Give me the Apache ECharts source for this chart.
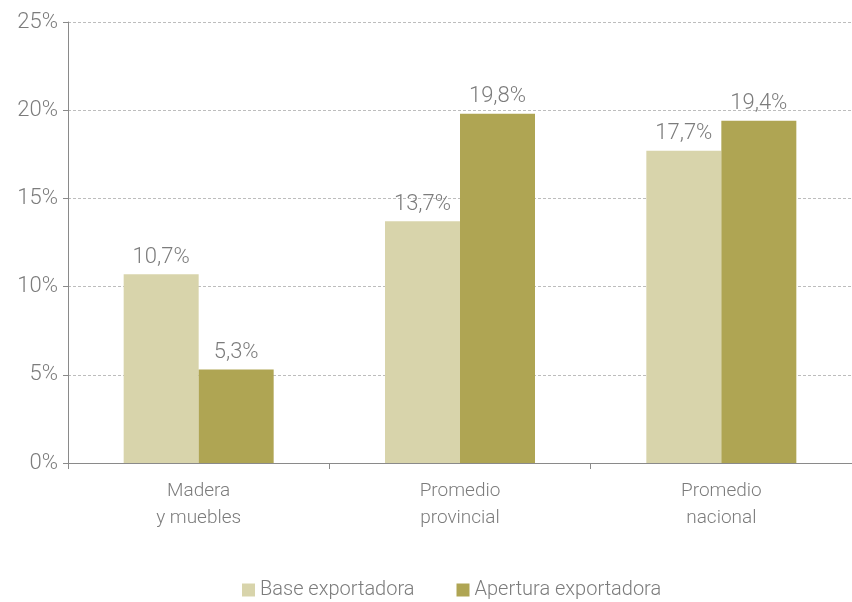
<!DOCTYPE html>
<html><head><meta charset="utf-8">
<script src="https://cdn.jsdelivr.net/npm/echarts@6/dist/echarts.min.js"></script>
<style>html,body{margin:0;padding:0;background:#fff}#c{width:852px;height:602px}</style>
</head><body><div id="c"></div>
<script>
const categories = ["Madera\ny muebles", "Promedio\nprovincial", "Promedio\nnacional"];
const seriesNames = ["Base exportadora", "Apertura exportadora"];
const baseValues = [10.7, 13.7, 17.7];
const aperturaValues = [5.3, 19.8, 19.4];
const yTicks = [0, 5, 10, 15, 20, 25];

const FONT = 'Roboto, "Liberation Sans", sans-serif';
const TXT = '#7c7c7c';
const fmt = v => v.toFixed(1).replace('.', ',') + '%';
const chart = echarts.init(document.getElementById('c'));
const lbl = {show: true, position: 'top', distance: 6, color: TXT, fontFamily: FONT, fontSize: 22, fontWeight: 300,
  formatter: p => fmt(p.value)};
chart.setOption({
  animation: false,
  textStyle: {fontFamily: FONT},
  grid: {left: 68, right: 0, top: 22, bottom: 139, containLabel: false},
  legend: {
    top: 575, left: 237, itemWidth: 13, itemHeight: 13, itemGap: 42,
    icon: 'rect', textStyle: {color: TXT, fontFamily: FONT, fontSize: 20, fontWeight: 300},
    data: seriesNames
  },
  xAxis: {
    type: 'category', data: categories,
    axisLine: {lineStyle: {color: '#8a8a8a', width: 1}},
    axisTick: {show: true, length: 6, lineStyle: {color: '#8a8a8a'}},
    axisLabel: {color: TXT, fontFamily: FONT, fontSize: 19, fontWeight: 300, lineHeight: 27, margin: 15}
  },
  yAxis: {
    type: 'value', min: yTicks[0], max: yTicks[yTicks.length - 1], interval: 5,
    axisLine: {show: true, lineStyle: {color: '#8a8a8a'}},
    axisTick: {show: true, length: 5, lineStyle: {color: '#8a8a8a'}},
    axisLabel: {color: TXT, fontFamily: FONT, fontSize: 22, fontWeight: 300, margin: 10, formatter: v => v + '%'},
    splitLine: {show: true, lineStyle: {color: '#bdbdbd', type: [3, 2], width: 1}}
  },
  series: [
    {name: seriesNames[0], type: 'bar', data: baseValues, barWidth: 75, barGap: '0%',
     itemStyle: {color: '#d8d4ab'}, label: lbl},
    {name: seriesNames[1], type: 'bar', data: aperturaValues, barWidth: 75,
     itemStyle: {color: '#afa553'}, label: lbl}
  ]
});
</script></body></html>
